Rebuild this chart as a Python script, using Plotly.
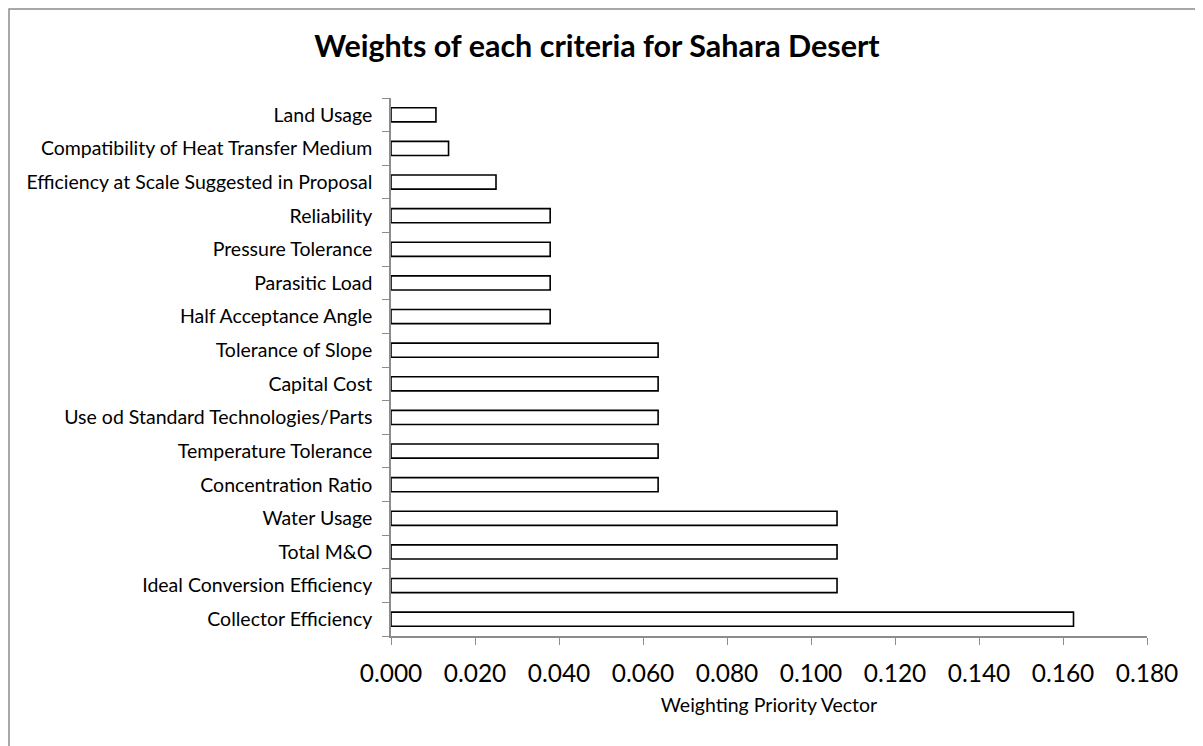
import plotly.graph_objects as go

# categories listed bottom to top, as drawn on the chart
criteria = [
    "Collector Efficiency",
    "Ideal Conversion Efficiency",
    "Total M&O",
    "Water Usage",
    "Concentration Ratio",
    "Temperature Tolerance",
    "Use od Standard Technologies/Parts",
    "Capital Cost",
    "Tolerance of Slope",
    "Half Acceptance Angle",
    "Parasitic Load",
    "Pressure Tolerance",
    "Reliability",
    "Efficiency at Scale Suggested in Proposal",
    "Compatibility of Heat Transfer Medium",
    "Land Usage",
]
weights = [
    0.1625, 0.1062, 0.1062, 0.1062,
    0.0636, 0.0636, 0.0636, 0.0636, 0.0636,
    0.0379, 0.0379, 0.0379, 0.0379,
    0.0250, 0.0137, 0.0107,
]
x_ticks = [0.0, 0.02, 0.04, 0.06, 0.08, 0.10, 0.12, 0.14, 0.16, 0.18]

FONT = "Lato"
GREY = "#8c8c8c"

# page body adds 8px around the figure, so the figure is 8px smaller
W, H = 1195, 738
L, R, T, B = 383, 56, 90, 110
PW, PH = W - L - R, H - T - B

fig = go.Figure(
    go.Bar(
        x=weights,
        y=criteria,
        orientation="h",
        width=0.42,
        marker={"color": "white", "line": {"color": "black", "width": 1.6}},
        hoverinfo="x+y",
    )
)

fig.update_layout(
    width=W,
    height=H,
    paper_bgcolor="white",
    plot_bgcolor="white",
    showlegend=False,
    font={"family": FONT, "color": "#000000"},
    title={
        "text": "<b>Weights of each criteria for Sahara Desert</b>",
        "x": (597 - 8) / W,
        "xanchor": "center",
        "y": 1 - (46 - 8) / H,
        "yanchor": "middle",
        "font": {"size": 30.5, "family": FONT},
    },
    margin={"l": L, "r": R, "t": T, "b": B},
)

fig.update_xaxes(
    range=[0, 0.18],
    tickvals=x_ticks,
    tickformat=".3f",
    showgrid=False,
    zeroline=False,
    showline=True,
    linecolor=GREY,
    linewidth=1.5,
    ticks="outside",
    ticklen=7,
    tickcolor=GREY,
    tickfont={"size": 24.5, "family": FONT},
    ticklabelstandoff=8,
    title={"text": "Weighting Priority Vector", "font": {"size": 19.5, "family": FONT}, "standoff": 12},
)
fig.update_yaxes(
    type="category",
    categoryorder="array",
    categoryarray=criteria,
    range=[-0.5, len(criteria) - 0.5],
    showgrid=False,
    zeroline=False,
    showline=True,
    linecolor=GREY,
    linewidth=1.5,
    ticks="outside",
    tickson="boundaries",
    ticklen=7,
    tickcolor=GREY,
    tickfont={"size": 19.5, "family": FONT},
    ticklabelstandoff=13,
)

# thin grey frame around the chart (only left and top edges fall inside the window)
fig.add_shape(
    type="rect",
    xref="paper",
    yref="paper",
    x0=(1 - L) / PW,
    x1=(W + 20 - L) / PW,
    y0=(PH + T - H - 20) / PH,
    y1=(PH + T - 1) / PH,
    line={"color": GREY, "width": 1.5},
    fillcolor="rgba(0,0,0,0)",
    layer="below",
)

fig.write_html("out.html")
